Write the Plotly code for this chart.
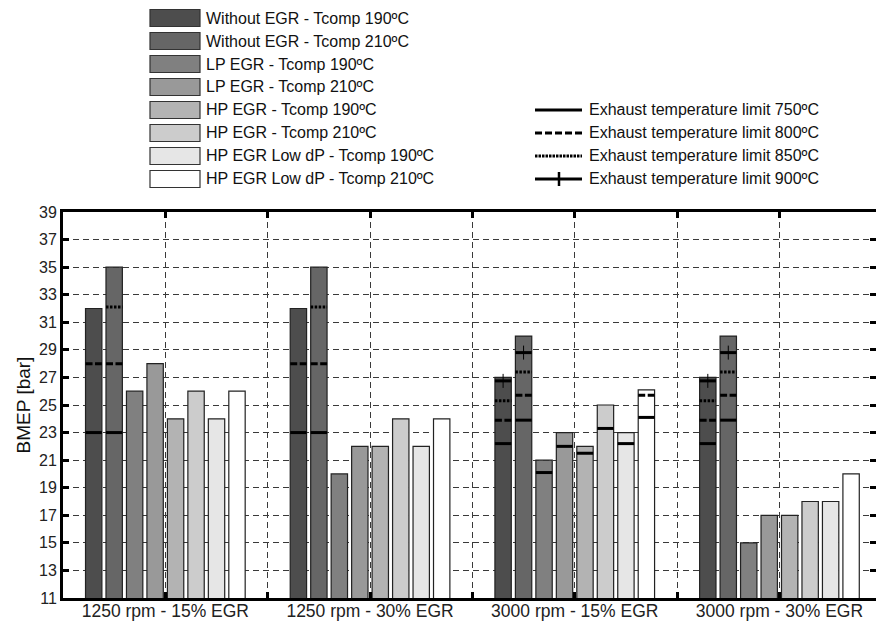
import plotly.graph_objects as go

# ---- data -------------------------------------------------------------
groups = ["1250 rpm - 15% EGR", "1250 rpm - 30% EGR",
          "3000 rpm - 15% EGR", "3000 rpm - 30% EGR"]

series_names = [
    "Without EGR - Tcomp 190ºC",
    "Without EGR - Tcomp 210ºC",
    "LP EGR - Tcomp 190ºC",
    "LP EGR - Tcomp 210ºC",
    "HP EGR - Tcomp 190ºC",
    "HP EGR - Tcomp 210ºC",
    "HP EGR Low dP - Tcomp 190ºC",
    "HP EGR Low dP - Tcomp 210ºC",
]

# maximum BMEP [bar] per configuration, one value per operating point
bmep_wo_190 = [32, 32, 27, 27]
bmep_wo_210 = [35, 35, 30, 30]
bmep_lp_190 = [26, 20, 21, 15]
bmep_lp_210 = [28, 22, 23, 17]
bmep_hp_190 = [24, 22, 22, 17]
bmep_hp_210 = [26, 24, 25, 18]
bmep_hpl_190 = [24, 22, 23, 18]
bmep_hpl_210 = [26, 24, 26.1, 20]
bmep = [bmep_wo_190, bmep_wo_210, bmep_lp_190, bmep_lp_210,
        bmep_hp_190, bmep_hp_210, bmep_hpl_190, bmep_hpl_210]

N = None
# BMEP reached at each exhaust temperature limit (None = not limiting)
lim750 = [[23, 23, 22.2, 22.2], [23, 23, 23.9, 23.9],
          [N, N, 20.1, N], [N, N, 22, N], [N, N, 21.5, N],
          [N, N, 23.3, N], [N, N, 22.2, N], [N, N, 24.1, N]]
lim800 = [[28, 28, 23.9, 23.9], [28, 28, 25.7, 25.7],
          [N, N, N, N], [N, N, N, N], [N, N, N, N],
          [N, N, N, N], [N, N, N, N], [N, N, 25.7, N]]
lim850 = [[N, N, 25.3, 25.3], [32.1, 32.1, 27.4, 27.4],
          [N, N, N, N], [N, N, N, N], [N, N, N, N],
          [N, N, N, N], [N, N, N, N], [N, N, N, N]]
lim900 = [[N, N, 26.75, 26.75], [N, N, 28.8, 28.8],
          [N, N, N, N], [N, N, N, N], [N, N, N, N],
          [N, N, N, N], [N, N, N, N], [N, N, N, N]]

limit_names = ["Exhaust temperature limit 750ºC",
               "Exhaust temperature limit 800ºC",
               "Exhaust temperature limit 850ºC",
               "Exhaust temperature limit 900ºC"]

# ---- style ------------------------------------------------------------
FONT = "Liberation Sans, Arial, sans-serif"
fills = ["#4d4d4d", "#666666", "#808080", "#999999",
         "#b3b3b3", "#cccccc", "#e6e6e6", "#ffffff"]
W, H = 876, 622
ML, MR, MT, MB = 63, 0, 212, 24
PX_PER_GROUP = 204.7
BAR_W = 0.08
BAR_PITCH = 0.1
GRID = "#3a3a3a"
GRID_DASH = "6px,4px"

xs = list(range(len(groups)))


def bar_offset(i):
    return -0.39 + i * BAR_PITCH


fig = go.Figure()

for i, (name, vals) in enumerate(zip(series_names, bmep)):
    fig.add_trace(go.Bar(
        x=xs, y=vals, name=name, width=BAR_W, offset=bar_offset(i),
        marker=dict(color=fills[i], line=dict(color="#222222", width=1.2)),
        showlegend=False,
    ))


def limit_segments(table):
    sx, sy = [], []
    for i, row in enumerate(table):
        for g, v in zip(xs, row):
            if v is None:
                continue
            x0 = g + bar_offset(i)
            sx += [x0, x0 + BAR_W, None]
            sy += [v, v, None]
    return sx, sy


limit_dash = ["solid", "7px,2.5px", "2.5px,1.5px", "solid"]
for table, dash, name in zip([lim750, lim800, lim850, lim900], limit_dash, limit_names):
    sx, sy = limit_segments(table)
    fig.add_trace(go.Scatter(
        x=sx, y=sy, mode="lines", name=name, showlegend=False,
        line=dict(color="black", width=3, dash=dash), hoverinfo="skip",
    ))

# vertical cross marks of the 900ºC limit
cx, cy = [], []
for i, row in enumerate(lim900):
    for g, v in zip(xs, row):
        if v is not None:
            cx.append(g + bar_offset(i) + BAR_W / 2)
            cy.append(v)
fig.add_trace(go.Scatter(
    x=cx, y=cy, mode="markers", showlegend=False, hoverinfo="skip",
    marker=dict(symbol="line-ns", size=10, line=dict(color="black", width=1)),
))

# ---- axes -------------------------------------------------------------
plot_w = W - ML - MR
x_range = [-0.5, -0.5 + plot_w / PX_PER_GROUP]

fig.update_xaxes(
    range=x_range, tickmode="array", tickvals=xs, ticktext=groups,
    ticks="inside", ticklen=6, tickwidth=3, tickcolor="black",
    showline=True, linewidth=3, linecolor="black", mirror="ticks",
    showgrid=True, gridcolor=GRID, gridwidth=1, griddash=GRID_DASH,
    zeroline=False, ticklabelstandoff=-5,
    tickfont=dict(family=FONT, size=17.5, color="#222"),
    minor=dict(tickmode="linear", tick0=0, dtick=0.5, ticks="inside",
               ticklen=6, tickwidth=3, tickcolor="black",
               showgrid=True, gridcolor=GRID, gridwidth=1, griddash=GRID_DASH),
)
fig.update_yaxes(
    range=[11, 39], tickmode="linear", tick0=11, dtick=2,
    ticks="inside", ticklen=6, tickwidth=3, tickcolor="black",
    showline=True, linewidth=3, linecolor="black", mirror="ticks",
    showgrid=True, gridcolor=GRID, gridwidth=1, griddash=GRID_DASH,
    zeroline=False,
    tickfont=dict(family=FONT, size=16, color="#222"),
    title=dict(text="BMEP [bar]", font=dict(family=FONT, size=19, color="#111"),
               standoff=4),
)

# ---- legends (drawn in pixel space above the axes) ---------------------
plot_h = H - MT - MB


def px(xp):
    return (xp - ML) / plot_w


def py(yp):
    return (H - MB - yp) / plot_h


shapes, annots = [], []
rows_y = [18, 41, 64, 87, 110, 133, 156, 179]
for name, col, yc in zip(series_names, fills, rows_y):
    shapes.append(dict(type="rect", xref="paper", yref="paper",
                       x0=px(150), x1=px(200), y0=py(yc + 8.5), y1=py(yc - 8.5),
                       fillcolor=col, line=dict(color="#333333", width=1.2)))
    annots.append(dict(x=px(204), y=py(yc), xref="paper", yref="paper",
                       text=name, showarrow=False, xanchor="left", yanchor="middle",
                       font=dict(family=FONT, size=16, color="#111")))

line_rows = rows_y[4:]
legend_dash = ["solid", "7px,3px", "2.5px,1px", "solid"]
for name, dash, yc in zip(limit_names, legend_dash, line_rows):
    shapes.append(dict(type="line", xref="paper", yref="paper",
                       x0=px(535), x1=px(582), y0=py(yc), y1=py(yc),
                       line=dict(color="black", width=3, dash=dash)))
    annots.append(dict(x=px(587), y=py(yc), xref="paper", yref="paper",
                       text=name, showarrow=False, xanchor="left", yanchor="middle",
                       font=dict(family=FONT, size=16, color="#111")))
shapes.append(dict(type="line", xref="paper", yref="paper",
                   x0=px(559), x1=px(559), y0=py(line_rows[3] - 7), y1=py(line_rows[3] + 7),
                   line=dict(color="black", width=2.5)))

fig.update_layout(
    width=W, height=H, margin=dict(l=ML, r=MR, t=MT, b=MB, autoexpand=False),
    barmode="overlay", plot_bgcolor="white", paper_bgcolor="white",
    shapes=shapes, annotations=annots, showlegend=False,
)

fig.write_html("out.html")
